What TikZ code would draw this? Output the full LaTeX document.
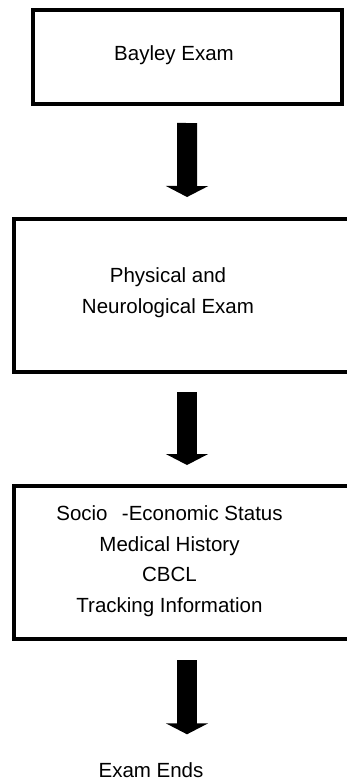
\documentclass[tikz,border=0pt]{standalone}
\usepackage{fontspec}
\setmainfont{Liberation Sans}
\usetikzlibrary{arrows.meta}

\begin{document}
\begin{tikzpicture}[x=1pt, y=-1pt, line join=miter,
  box/.style={draw, line width=4pt, inner sep=0pt},
  txt/.style={inner sep=0pt, align=center,
    font=\fontsize{20.5}{30.5}\selectfont},
  flow/.style={line width=20pt, -{Triangle[width=42pt,length=11pt]}}]

  % ---- Page (pixel grid of the reference) ----
  \useasboundingbox (0,0) rectangle (347,782);

  % Parameters
  \def\gapT{19}   % space between box line and arrow shaft
  \def\gapB{20}   % space between arrow tip and next box

  % ---- Boxes ----
  \node[box, minimum width=308.5pt, minimum height=94.5pt]
    (bayley) at (187.25,56.75) {};
  \node[box, minimum width=346pt, minimum height=153pt]
    (neuro) at (187,295.5) {};
  \node[box, minimum width=346pt, minimum height=153pt]
    (history) at (187,562.5) {};

  % ---- Box texts ----
  \node[txt] (bayleytxt) at (174,55) {Bayley Exam};
  \node[txt] (neurotxt) at (168,292.5) {Physical and\\Neurological Exam};
  \node[txt] (historytxt) at (169.5,561)
    {Socio\hspace{0.7em}-Economic Status\\Medical History\\CBCL\\Tracking Information};
  \node[txt] (ends) at (151,770) {Exam Ends};

  % ---- Arrows ----
  \draw[flow, shorten <=17pt, shorten >=\gapB pt] (bayley.south) -- (neuro.north);
  \draw[flow, shorten <=18pt, shorten >=19pt] (neuro.south) -- (history.north);
  \draw[flow, shorten <=\gapT pt, shorten >=28pt] (history.south) -- (history.south |- ends.north);

\end{tikzpicture}
\end{document}
